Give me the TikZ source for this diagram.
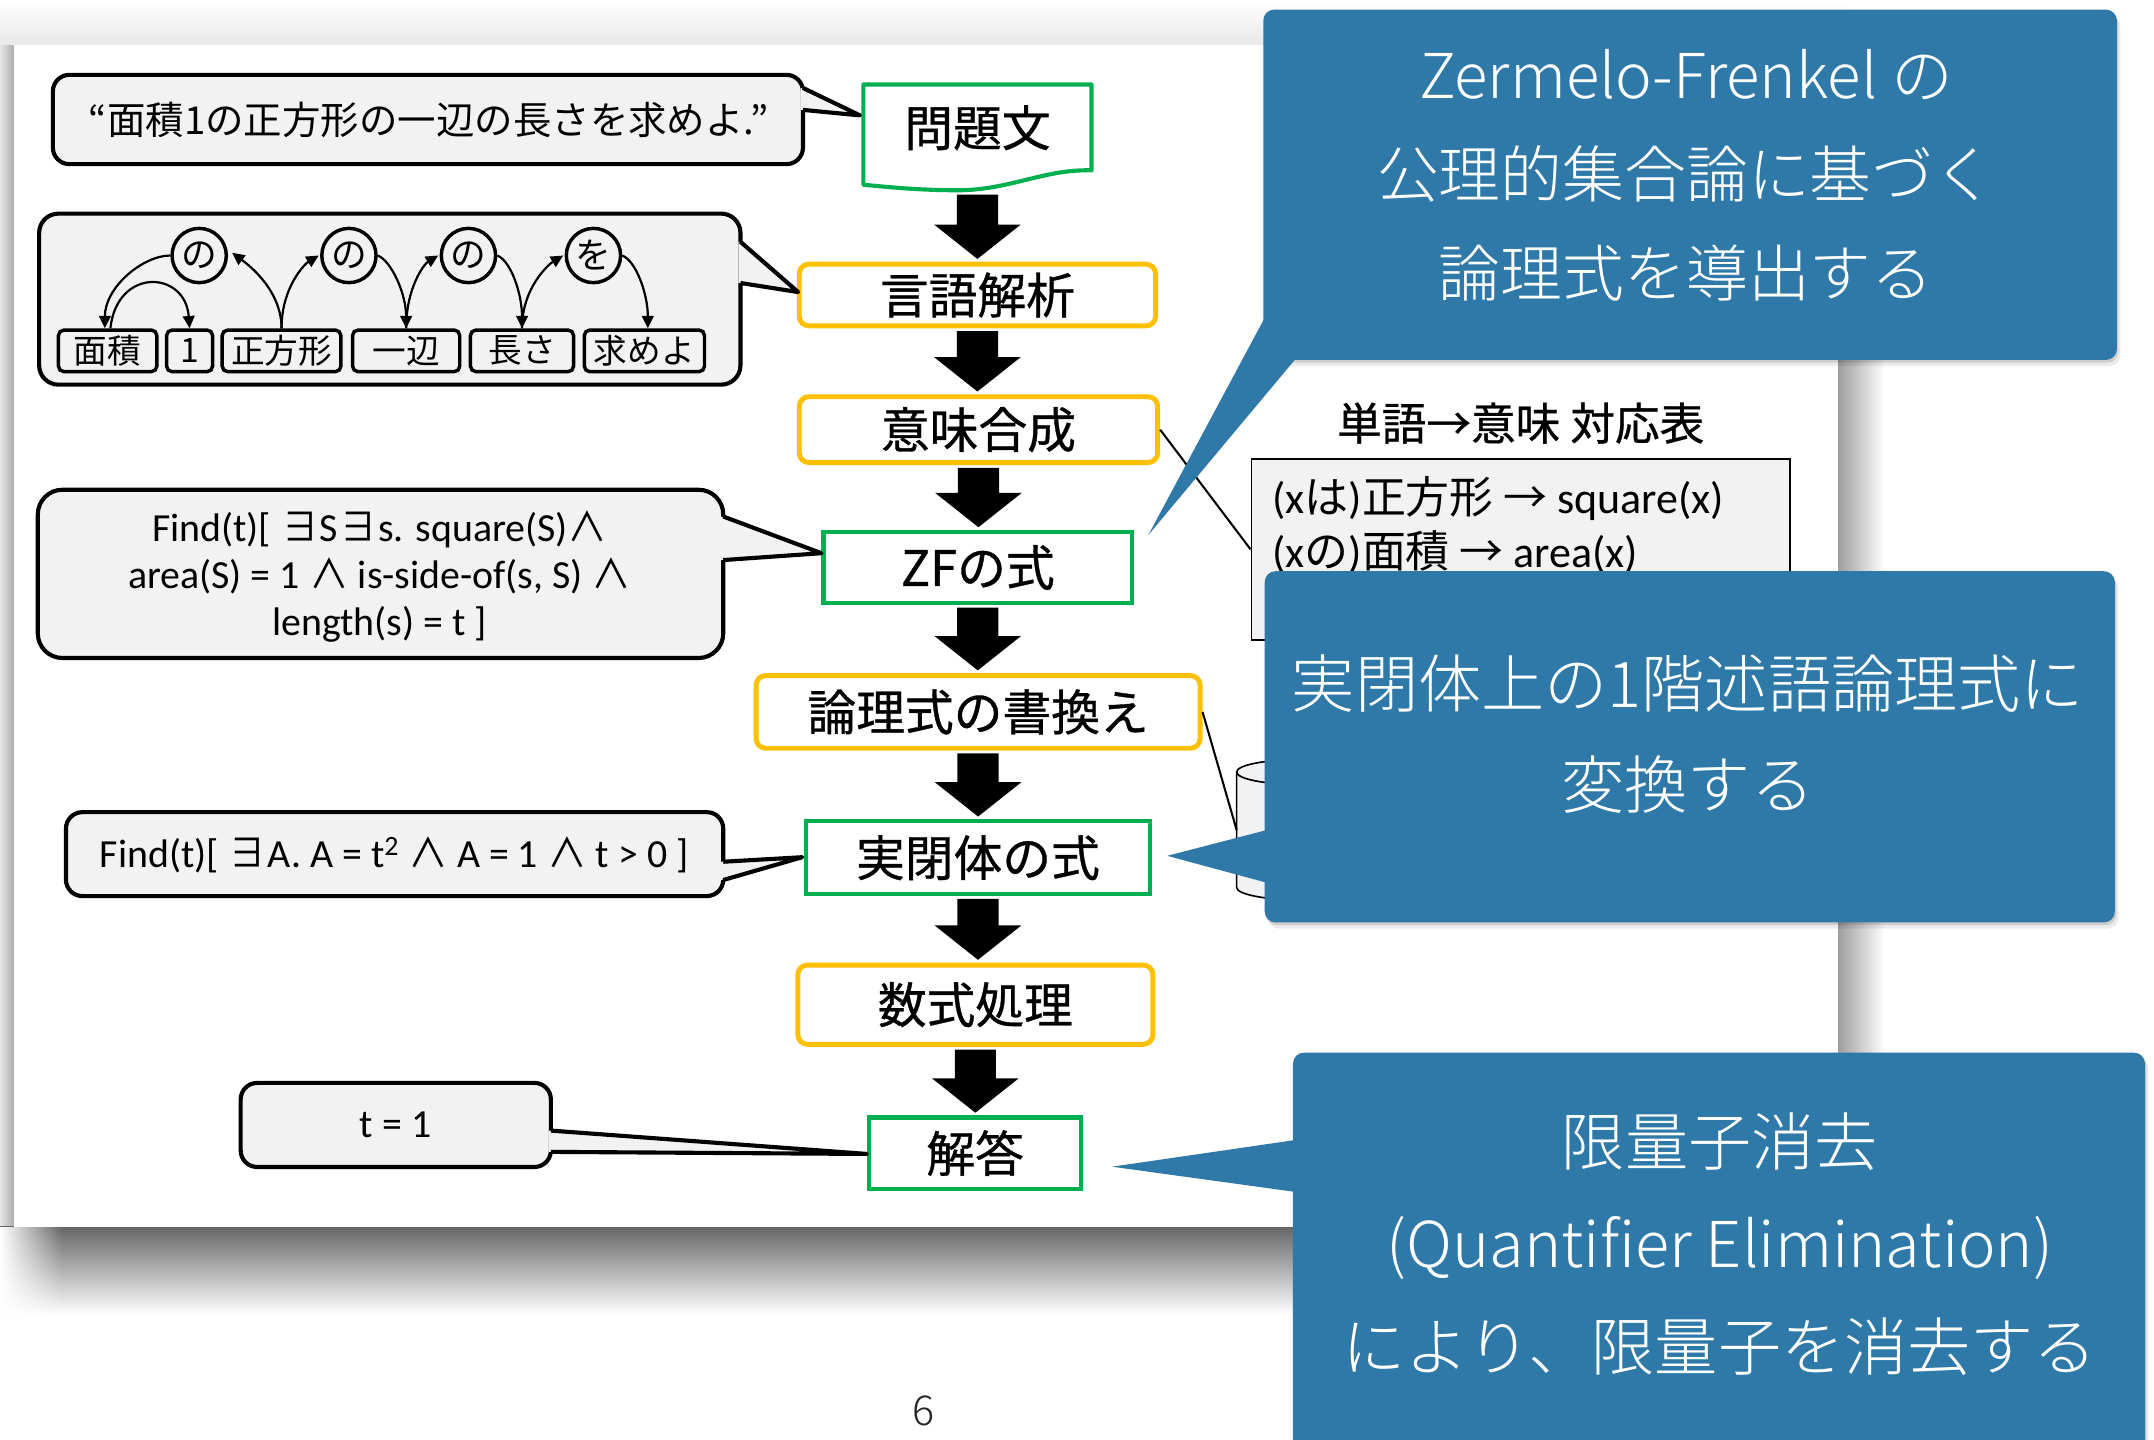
\documentclass[tikz,border=0pt]{standalone}
\usepackage{fontspec}
\setmainfont{Noto Sans CJK JP}
\newfontfamily\cjkf{Noto Sans CJK JP}
\newfontfamily\medf{Noto Sans CJK JP}[FakeBold=0.7]
\newfontfamily\lightf{Noto Sans CJK JP}[UprightFont=* Light]
\newfontfamily\calf{Carlito}
\usetikzlibrary{arrows.meta,calc,fadings}
\tikzfading[name=fadeR, left color=transparent!0, right color=transparent!100]
\definecolor{yel}{HTML}{FFC000}
\definecolor{grn}{HTML}{00B050}
\definecolor{cfill}{HTML}{F2F2F2}
\definecolor{cblue}{RGB}{46,121,168}
\newcommand{\fsz}[2]{\fontsize{#1}{#2}\selectfont}
\newcommand{\EX}{{\cjkf ∃}}
\newcommand{\AN}{{\cjkf ∧}}
\newcommand{\blockarrow}[2]{%
  \fill[black] let \p1=#1, \p2=#2 in
   (\x1-15pt,\y1) -- (\x1+15pt,\y1) -- (\x1+15pt,\y2+25pt) -- (\x1+31.5pt,\y2+25pt)
   -- (\x1,\y2) -- (\x1-31.5pt,\y2+25pt) -- (\x1-15pt,\y2+25pt) -- cycle;}
\begin{document}
\begin{tikzpicture}[x=1pt,y=-1pt,
  ybox/.style={draw=yel, line width=3.6pt, rounded corners=7pt, fill=white, inner sep=0pt, font=\medf\fsz{35.5}{40}},
  gbox/.style={draw=grn, line width=3pt, fill=white, inner sep=0pt, font=\medf\fsz{35.5}{40}},
  cbody/.style={draw=black, line width=3pt, fill=cfill, inner sep=0pt},
  cptr/.style={draw=black, line width=3pt, line join=round},
  wbox/.style={draw=black, line width=2.5pt, rounded corners=4pt, fill=cfill, inner sep=0pt, minimum height=30.3pt, font=\fsz{24.5}{28}},
  pcirc/.style={circle, draw=black, line width=2.5pt, fill=cfill, inner sep=0pt, minimum size=39.5pt, font=\fsz{26}{28}},
  dep/.style={line width=1.6pt, -{Triangle[length=9pt,width=8.5pt]}},
  bbody/.style={fill=cblue, rounded corners=8pt, inner sep=0pt},
  btext/.style={text=white, align=center, inner sep=0pt},
  ftext/.style={font=\calf\fsz{29}{34}, align=center, inner sep=0pt},
  bshadow/.style={fill=black, rounded corners=8pt}]
\useasboundingbox (0,0) rectangle (1568,1048);
\clip (0,0) rectangle (1568,1048);
% ---------- page background and slide shadow ----------
\fill[white] (0,0) rectangle (1568,1048);
\shade[top color=white, bottom color=black!9] (0,0) rectangle (1345,33);
\shade[left color=black!10, right color=black!32] (0,33) rectangle (10,893);
\shade[top color=black!60, bottom color=white] (0,893) rectangle (1345,957);
\fill[white, path fading=fadeR] (0,893) rectangle (45,960);
\shade[left color=black!38, right color=white] (1338,33) rectangle (1372,893);
\fill[white] (10,33) rectangle (1338,893);
% ---------- flow ----------
\filldraw[draw=grn, fill=white, line width=3pt, line join=round]
  (628.5,61.5) -- (794.5,61.5) -- (794.5,124)
  .. controls (760,123) and (735,138.5) .. (697,138.5)
  .. controls (668,138.5) and (645,136) .. (628.5,134.5) -- cycle;
\node[inner sep=0pt, minimum width=166pt, minimum height=63pt, font=\medf\fsz{35.5}{40}] (mondai) at (711.5,93) {問題文};
\node[ybox, minimum width=259.4pt, minimum height=44.9pt] (gengo) at (711.5,214.75) {言語解析};
\node[ybox, minimum width=260.9pt, minimum height=47.9pt] (imi) at (712.25,312.75) {意味合成};
\node[gbox, minimum width=224.5pt, minimum height=51.6pt] (zf) at (711.75,413.1) {ZFの式};
\node[ybox, minimum width=323.2pt, minimum height=52.9pt] (ronri) at (712,518.25) {論理式の書換え};
\node[gbox, minimum width=250.8pt, minimum height=52.9pt] (jitsu) at (711.9,624.35) {実閉体の式};
\node[ybox, minimum width=258.4pt, minimum height=57.7pt] (suu) at (710,731.35) {数式処理};
\node[gbox, minimum width=154.7pt, minimum height=51.8pt] (kai) at (709.85,839.4) {解答};
\blockarrow{([yshift=-17pt]mondai.south)}{([yshift=2pt]gengo.north)}
\blockarrow{([yshift=-2pt]gengo.south)}{([yshift=2pt]imi.north)}
\blockarrow{([yshift=-2pt]imi.south)}{([yshift=2pt]zf.north)}
\blockarrow{([yshift=-2pt]zf.south)}{([yshift=2pt]ronri.north)}
\blockarrow{([yshift=-2pt]ronri.south)}{([yshift=2pt]jitsu.north)}
\blockarrow{([yshift=-2pt]jitsu.south)}{([yshift=2pt]suu.north)}
\blockarrow{([yshift=-2pt]suu.south)}{([yshift=2pt]kai.north)}
% ---------- callout A ----------
\node[cbody, rounded corners=12pt, minimum width=546pt, minimum height=65pt] (calA) at (311.5,87) {};
\fill[cfill] (583,64) -- (626,84) -- (583,80) -- cycle;
\draw[cptr] (584.5,64) -- (626,84) -- (584.5,80);
\node[inner sep=0pt, font=\fsz{28}{32}] (txtA) at (312,87) {“面積1の正方形の一辺の長さを求めよ.”};
% ---------- callout B (parse) ----------
\node[cbody, rounded corners=14pt, minimum width=510.5pt, minimum height=124.5pt] (calB) at (283.75,217.75) {};
\fill[cfill] (537.5,176) -- (581,212.6) -- (537.5,206) -- cycle;
\draw[cptr] (539,176) -- (581,212.6) -- (539,206);
\node[wbox, minimum width=71.6pt] (w1) at (78.35,255.4) {面積};
\node[wbox, minimum width=33.5pt] (w2) at (138,255.4) {1};
\node[wbox, minimum width=86.4pt] (w3) at (204.95,255.4) {正方形};
\node[wbox, minimum width=78pt] (w4) at (295.65,255.4) {一辺};
\node[wbox, minimum width=75.1pt] (w5) at (380,255.4) {長さ};
\node[wbox, minimum width=87.5pt] (w6) at (469.1,255.4) {求めよ};
\node[pcirc] (c1) at (145,186) {の};
\node[pcirc] (c2) at (254,186) {の};
\node[pcirc] (c3) at (341,186) {の};
\node[pcirc] (c4) at (432,186) {を};
\draw[dep] (c1.west) .. controls +(-20,0) and +(0,-30) .. ([xshift=-2pt]w1.north);
\draw[dep] ([xshift=2pt]w1.north) .. controls +(5,-45) and +(-3,-42) .. (w2.north);
\draw[dep] (w3.north) .. controls +(0,-30) and +(8,6) .. ($(c1.east)+(3,-2)$);
\draw[dep] (w3.north) .. controls +(0,-30) and +(-10,6) .. ($(c2.west)+(-1,0)$);
\draw[dep] (c2.east) .. controls +(10,4) and +(0,-25) .. (w4.north);
\draw[dep] (w4.north) .. controls +(0,-30) and +(-10,6) .. ($(c3.west)+(-1,0)$);
\draw[dep] (c3.east) .. controls +(10,4) and +(0,-25) .. (w5.north);
\draw[dep] (w5.north) .. controls +(0,-30) and +(-10,6) .. ($(c4.west)+(-1,0)$);
\draw[dep] (c4.east) .. controls +(10,4) and +(0,-25) .. ([xshift=2.5pt]w6.north);
% ---------- callout C (ZF formula) ----------
\node[cbody, rounded corners=18pt, minimum width=499pt, minimum height=122.5pt] (calC) at (277,417.75) {};
\fill[cfill] (525,376) -- (598,402.7) -- (525,407.7) -- cycle;
\draw[cptr] (526.5,376) -- (598,402.7) -- (526.5,407.7);
\node[ftext] (txtC) at (276.5,419.8) {Find(t)[ \EX S\EX s. square(S)\AN\\area(S) = 1 \AN{} is-side-of(s, S) \AN\\length(s) = t ]};
% ---------- callout D ----------
\node[cbody, rounded corners=12pt, minimum width=478.5pt, minimum height=61.1pt] (calD) at (287.25,621.75) {};
\fill[cfill] (525,627.3) -- (584,624) -- (525,640.6) -- cycle;
\draw[cptr] (526.5,627.3) -- (584,624) -- (526.5,640.6);
\node[ftext] (txtD) at (287,622.4) {Find(t)[ \EX A. A = t\textsuperscript{2} \AN{} A = 1 \AN{} t > 0 ]};
% ---------- callout E ----------
\node[cbody, rounded corners=12pt, minimum width=225.8pt, minimum height=61.2pt] (calE) at (288.1,818.9) {};
\fill[cfill] (399.5,823) -- (631,840) -- (399.5,838.5) -- cycle;
\draw[cptr] (401,823) -- (631,840) -- (401,838.5);
\node[ftext] (txtE) at (288,819) {t = 1};
% ---------- table and database ----------
\node[inner sep=0pt, font=\medf\fsz{32.5}{36}] (ttl) at (1107,308) {単語→意味 対応表};
\node[draw=black, line width=1.3pt, fill=cfill, inner sep=0pt, minimum width=391.9pt, minimum height=131.8pt] (tbl) at (1106.9,399.85) {};
\node[anchor=west, align=left, inner sep=0pt, font=\fsz{32}{39}] (tbltx) at (926,382.1)
  {{\calf (x}は{\calf )}正方形 → {\calf square(x)}\\{\calf (x}の{\calf )}面積 → {\calf area(x)}};
\draw[line width=1.5pt] (imi.east) -- (tbl.west);
\filldraw[draw=black, fill=cfill, line width=1.2pt]
  (900.2,562) -- (900.2,646) arc[start angle=180, end angle=0, x radius=45, y radius=9]
  -- (990.2,562) arc[start angle=0, end angle=-180, x radius=45, y radius=9] -- cycle;
\draw[line width=1.2pt] (900.2,562) arc[start angle=180, end angle=0, x radius=45, y radius=9];
\coordinate (cylL) at (900.2,604.2);
\draw[line width=1.5pt] (ronri.east) -- (cylL);
% ---------- blue callouts ----------
\begin{scope}[shift={(1,2)}, opacity=0.12]
  \fill[bshadow] (919.6,7) rectangle (1541,262);
  \fill[bshadow] (920.6,415.8) rectangle (1539.5,671.5);
  \fill[bshadow] (941.2,766.3) rectangle (1561.5,1070);
\end{scope}
\begin{scope}[shift={(2.5,4.5)}, opacity=0.08]
  \fill[bshadow] (919.6,7) rectangle (1541,262);
  \fill[bshadow] (920.6,415.8) rectangle (1539.5,671.5);
  \fill[bshadow] (941.2,766.3) rectangle (1561.5,1070);
\end{scope}
\node[bbody, minimum width=621.4pt, minimum height=255pt] (bz) at (1230.3,134.5) {};
\fill[cblue] (922,228.8) -- (835.9,389.5) -- (945,259) -- cycle;
\node[btext, font=\lightf\fsz{45}{72}] (bztx) at (1227.5,127.65) {Zermelo-Frenkel の\\公理的集合論に基づく\\論理式を導出する};
\node[bbody, minimum width=618.9pt, minimum height=255.7pt] (bq) at (1230.05,543.65) {};
\fill[cblue] (923,604) -- (849.7,623) -- (923,642.8) -- cycle;
\node[btext, font=\lightf\fsz{46}{73.4}] (bqtx) at (1228.7,534.3) {実閉体上の1階述語論理式に\\変換する};
\node[bbody, minimum width=620.3pt, minimum height=303.7pt] (be) at (1251.35,918.15) {};
\fill[cblue] (944,829.7) -- (809.5,849.3) -- (944,867.8) -- cycle;
\node[btext, font=\lightf\fsz{46}{74.5}] (betx) at (1252,905.5) {限量子消去\\(Quantifier Elimination)\\により、限量子を消去する};
% ---------- page number ----------
\node[inner sep=0pt, font=\lightf\fsz{30}{34}, text=black!85] (pnum) at (672,1027) {6};
\end{tikzpicture}
\end{document}
